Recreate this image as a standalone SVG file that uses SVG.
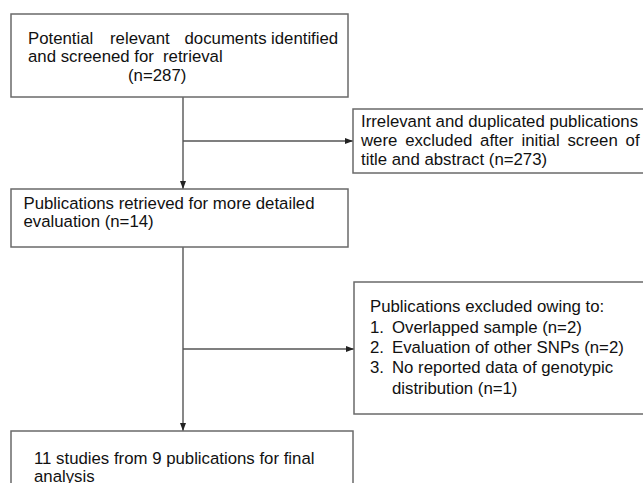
<svg xmlns="http://www.w3.org/2000/svg" width="643" height="483" viewBox="0 0 643 483">
<style>
  .box{fill:#fff;stroke:#6a6a6a;stroke-width:1.5}
  .t{font-family:"Liberation Sans",Arial,sans-serif;font-size:16.8px;fill:#111}
  .c{fill:none;stroke:#555;stroke-width:1.4}
</style>
<defs>
  <marker id="ah" markerUnits="userSpaceOnUse" markerWidth="8" markerHeight="8" viewBox="0 0 8 8" refX="8" refY="4" orient="auto">
    <path d="M0,1 L8,4 L0,7 Z" fill="#222"/>
  </marker>
</defs>
<rect width="643" height="483" fill="#fff"/>
<g id="connectors">
  <line class="c" x1="183" y1="97" x2="183" y2="189" marker-end="url(#ah)"/>
  <line class="c" x1="183" y1="141" x2="353" y2="141" marker-end="url(#ah)"/>
  <line class="c" x1="183" y1="247" x2="183" y2="431" marker-end="url(#ah)"/>
  <line class="c" x1="183" y1="349" x2="354" y2="349" marker-end="url(#ah)"/>
</g>
<g id="n1">
  <rect class="box" x="11" y="14" width="337" height="83"/>
  <text class="t" y="43.5"><tspan x="28">Potential</tspan><tspan x="110">relevant</tspan><tspan x="184.5">documents</tspan><tspan x="271">identified</tspan></text>
  <text class="t" y="62"><tspan x="28">and screened for</tspan><tspan x="163">retrieval</tspan></text>
  <text class="t" x="128" y="80.5">(n=287)</text>
</g>
<g id="n2">
  <rect class="box" x="353" y="109" width="300" height="64"/>
  <text class="t" x="361" y="127">Irrelevant and duplicated publications</text>
  <text class="t" x="361" y="146" word-spacing="3.1">were excluded after initial screen of</text>
  <text class="t" x="361" y="164.5">title and abstract (n=273)</text>
</g>
<g id="n3">
  <rect class="box" x="11" y="189" width="337" height="58"/>
  <text class="t" x="23.5" y="208.5">Publications retrieved for more detailed</text>
  <text class="t" x="23.5" y="227">evaluation (n=14)</text>
</g>
<g id="n4">
  <rect class="box" x="354" y="282" width="300" height="132"/>
  <text class="t" x="370" y="312.3">Publications excluded owing to:</text>
  <text class="t" y="332.7"><tspan x="370">1.</tspan><tspan x="392">Overlapped sample (n=2)</tspan></text>
  <text class="t" y="353"><tspan x="370">2.</tspan><tspan x="392">Evaluation of other SNPs (n=2)</tspan></text>
  <text class="t" y="373.3"><tspan x="370">3.</tspan><tspan x="392">No reported data of genotypic</tspan></text>
  <text class="t" x="392" y="393.6">distribution (n=1)</text>
</g>
<g id="n5">
  <rect class="box" x="11" y="431" width="342" height="70"/>
  <text class="t" x="34" y="464">11 studies from 9 publications for final</text>
  <text class="t" x="34" y="482">analysis</text>
</g>
</svg>
